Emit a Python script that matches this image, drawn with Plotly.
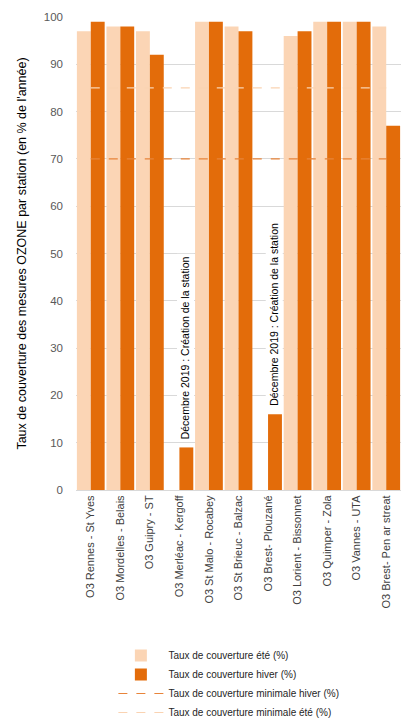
import plotly.graph_objects as go

stations = ["O3 Rennes - St Yves", "O3 Mordelles - Belais", "O3 Guipry - ST",
            "O3 Merléac - Kergoff", "O3 St Malo - Rocabey", "O3 St Brieuc - Balzac",
            "O3 Brest- Plouzané", "O3 Lorient - Bissonnet", "O3 Quimper - Zola",
            "O3 Vannes - UTA", "O3 Brest- Pen ar streat"]
ete = [97, 98, 97, None, 99, 98, None, 96, 99, 99, 98]
hiver = [99, 98, 92, 9, 99, 97, 16, 97, 99, 99, 77]
min_hiver = [70] * len(stations)
min_ete = [85] * len(stations)
note_text = "Décembre 2019 : Création de la station"
note_stations = ["O3 Merléac - Kergoff", "O3 Brest- Plouzané"]

FONT = "Liberation Sans"
LIGHT = "#FBD5B5"
DARK = "#E36C0A"

fig = go.Figure()
fig.add_trace(go.Bar(x=stations, y=ete, name="Taux de couverture été (%)",
                     marker=dict(color=LIGHT, line=dict(width=0))))
fig.add_trace(go.Bar(x=stations, y=hiver, name="Taux de couverture hiver (%)",
                     marker=dict(color=DARK, line=dict(width=0))))
fig.add_trace(go.Scatter(x=stations, y=min_hiver, mode="lines",
                         name="Taux de couverture minimale hiver (%)",
                         line=dict(color="#E8843A", width=1.2, dash="dash")))
fig.add_trace(go.Scatter(x=stations, y=min_ete, mode="lines",
                         name="Taux de couverture minimale été (%)",
                         line=dict(color="#FAD3B2", width=1.2, dash="dash")))

for s in note_stations:
    v = hiver[stations.index(s)]
    fig.add_annotation(x=s, y=v, xref="x", yref="y", text=note_text,
                       textangle=-90, showarrow=False, xanchor="center",
                       yanchor="bottom", xshift=6, yshift=5,
                       bgcolor="white", borderpad=2,
                       font=dict(family=FONT, size=10.5, color="#000000"))

fig.update_layout(
    width=401, height=718,
    margin=dict(l=76, r=0, t=17, b=228),
    paper_bgcolor="white", plot_bgcolor="white",
    barmode="group", bargap=0.06, bargroupgap=0,
    font=dict(family=FONT, size=11, color="#595959"),
    showlegend=True,
    legend=dict(orientation="v", x=0.115, xanchor="left",
                yref="container", y=1 - 641 / 718, yanchor="top",
                font=dict(family=FONT, size=10, color="#262626"),
                tracegroupgap=0, itemwidth=45, bgcolor="rgba(0,0,0,0)"),
)
fig.update_xaxes(type="category", tickangle=-90, showgrid=False, automargin=False,
                 showline=True, linecolor="#D9D9D9", linewidth=1,
                 ticks="", tickfont=dict(family=FONT, size=11, color="#404040"))
fig.update_yaxes(range=[0, 100], dtick=10, showgrid=True, gridcolor="#D9D9D9",
                 gridwidth=1, zeroline=False, ticks="", ticklabelstandoff=12,
                 automargin=False,
                 tickfont=dict(family=FONT, size=11.5, color="#595959"),
                 title=dict(text="Taux de couverture des mesures OZONE par station (en % de l'année)",
                            font=dict(family=FONT, size=12.5, color="#000000"),
                            standoff=14))

fig.write_html("out.html")
